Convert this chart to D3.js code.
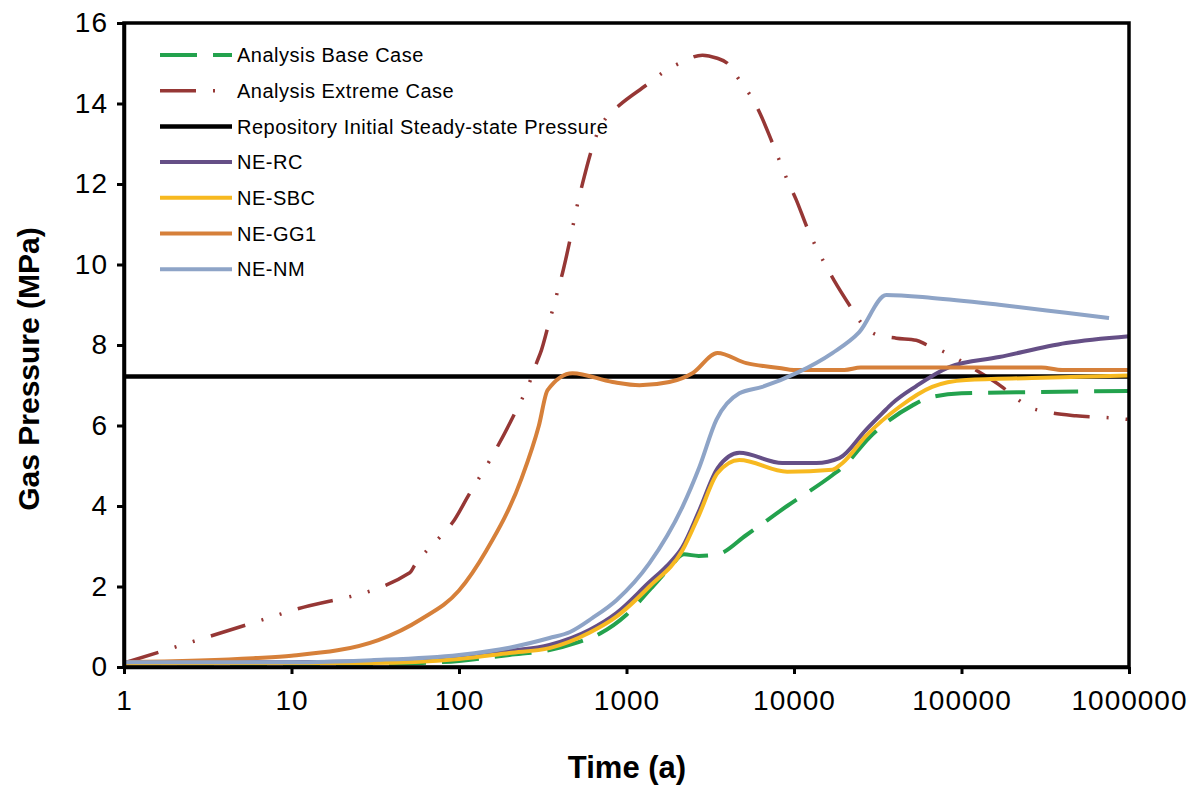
<!DOCTYPE html>
<html>
<head>
<meta charset="utf-8">
<script src="https://cdn.jsdelivr.net/npm/d3@7"></script>
<style>
  html, body { margin: 0; padding: 0; background: #fff; }
  svg { display: block; }
</style>
</head>
<body>
<svg id="chart" width="1193" height="787"></svg>
<script>
// Gas pressure histories, [time (a), pressure (MPa)]
const baseCase = [[1,0.1],[10,0.08],[30,0.08],[60,0.1],[100,0.15],[200,0.3],[347,0.42],[500,0.6],[700,0.84],[1000,1.3],[1400,1.95],[1800,2.45],[2200,2.8],[2700,2.76],[3500,2.8],[5200,3.28],[9100,4.0],[17000,4.77],[20000,5.0],[28000,5.69],[51000,6.5],[63000,6.68],[100000,6.8],[300000,6.83],[1000000,6.86]];
const extremeCase = [[1,0.1],[10,1.4],[50.8,2.34],[54.4,2.53],[77,3.23],[92,3.6],[116,4.32],[152,5.12],[215,6.3],[267,7.13],[292,7.58],[311,7.88],[338,8.42],[362,8.87],[387,9.32],[415,9.79],[465,10.7],[510,11.5],[547,12.02],[618,12.84],[671,13.27],[760,13.66],[908,13.96],[1316,14.46],[1640,14.76],[2070,15.0],[2840,15.2],[3440,15.13],[4000,15.0],[4720,14.58],[5560,14.16],[6210,13.79],[7430,13.02],[9120,12.1],[10330,11.6],[12020,10.9],[15170,10.04],[17380,9.6],[21980,8.92],[25180,8.55],[31400,8.25],[40800,8.17],[53700,8.12],[62400,8.0],[78800,7.83],[96800,7.63],[127400,7.33],[172000,6.98],[212000,6.68],[253000,6.46],[320000,6.34],[483000,6.24],[781000,6.19],[1000000,6.15]];
const steadyState = [[1,7.22],[1000000,7.22]];
const neRC = [[1,0.1],[10,0.12],[30,0.15],[100,0.25],[200,0.4],[347,0.55],[600,0.92],[871,1.34],[1371,2.11],[1731,2.5],[2158,2.98],[2725,3.9],[3500,4.94],[4720,5.32],[8510,5.07],[13590,5.07],[18630,5.19],[27000,5.9],[33600,6.3],[38600,6.55],[53700,6.98],[84400,7.45],[167800,7.7],[421000,8.05],[1000000,8.22]];
const neSBC = [[1,0.08],[10,0.1],[30,0.1],[100,0.2],[200,0.35],[347,0.47],[600,0.85],[871,1.25],[1371,2.0],[2158,2.9],[2725,3.8],[3500,4.82],[4720,5.14],[9100,4.85],[16940,4.9],[19500,5.07],[27000,5.75],[42500,6.46],[66800,6.96],[106600,7.13],[264000,7.18],[1000000,7.24]];
const neGG1 = [[1,0.12],[5.9,0.22],[10,0.28],[33,0.67],[60,1.2],[100,1.9],[146,2.9],[237,4.7],[300,6.0],[338,6.88],[476,7.3],[826,7.08],[1195,7.0],[1803,7.08],[2475,7.3],[3490,7.8],[5196,7.55],[8170,7.43],[10000,7.38],[20000,7.38],[25000,7.44],[300000,7.44],[400000,7.38],[1000000,7.38]];
const neNM = [[1,0.12],[10,0.12],[30,0.17],[100,0.3],[200,0.48],[347,0.72],[460,0.87],[627,1.22],[871,1.66],[1371,2.58],[2158,3.98],[2725,4.97],[3440,6.14],[4720,6.8],[6470,6.96],[10320,7.3],[16940,7.8],[24530,8.32],[35550,9.24],[66800,9.17],[167800,9.0],[421000,8.8],[760000,8.67]];

const seriesNames = ["Analysis Base Case","Analysis Extreme Case","Repository Initial Steady-state Pressure","NE-RC","NE-SBC","NE-GG1","NE-NM"];
const seriesData = [baseCase, extremeCase, steadyState, neRC, neSBC, neGG1, neNM];
const seriesColors = ["#23a24d","#963735","#000000","#654f86","#f7b920","#d6803a","#8ea4c7"];
const seriesDash = ["37,16","36,17,2,17,2,17",null,null,null,null,null];
const seriesWidth = [4,3.5,4.5,4,4,4,4];

const xTicks = [1,10,100,1000,10000,100000,1000000];
const yTicks = [0,2,4,6,8,10,12,14,16];

const font = "'Liberation Sans', Arial, sans-serif";
const svg = d3.select("#chart");
const plotLeft = 124, plotRight = 1129, plotTop = 23, plotBottom = 667;

const x = d3.scaleLog().domain([1,1000000]).range([plotLeft,plotRight]);
const y = d3.scaleLinear().domain([0,16]).range([plotBottom,plotTop]);

// series lines
const line = d3.line().x(d => x(d[0])).y(d => y(d[1])).curve(d3.curveMonotoneX);
seriesData.forEach((data, i) => {
  svg.append("path")
    .datum(data)
    .attr("d", line)
    .attr("fill","none")
    .attr("stroke", seriesColors[i])
    .attr("stroke-width", seriesWidth[i])
    .attr("stroke-dasharray", seriesDash[i])
    .attr("stroke-linejoin","round");
});

// frame
svg.append("rect")
  .attr("x", plotLeft).attr("y", plotTop)
  .attr("width", plotRight-plotLeft).attr("height", plotBottom-plotTop)
  .attr("fill","none").attr("stroke","#000").attr("stroke-width",3.5);

// axes
const xAxis = d3.axisBottom(x).tickValues(xTicks).tickFormat(d3.format("d")).tickSize(7).tickSizeOuter(0).tickPadding(16);
const gx = svg.append("g").attr("transform",`translate(0,${plotBottom})`).call(xAxis);
const yAxis = d3.axisLeft(y).tickValues(yTicks).tickFormat(d3.format("d")).tickSize(7).tickSizeOuter(0).tickPadding(9);
const gy = svg.append("g").attr("transform",`translate(${plotLeft},0)`).call(yAxis);
[gx, gy].forEach(g => {
  g.select(".domain").attr("stroke","#000").attr("stroke-width",3.5);
  g.selectAll(".tick line").attr("stroke","#000").attr("stroke-width",3);
  g.selectAll(".tick text").attr("fill","#000").style("font-family", font).style("font-size","28px").style("letter-spacing","1px");
});

// axis titles
svg.append("text")
  .attr("x", 627).attr("y", 778)
  .attr("text-anchor","middle")
  .style("font-family", font).style("font-size","31px").style("font-weight","bold")
  .text("Time (a)");
svg.append("text")
  .attr("transform", `translate(39,369) rotate(-90)`)
  .attr("text-anchor","middle")
  .style("font-family", font).style("font-size","30px").style("font-weight","bold")
  .text("Gas Pressure (MPa)");

// legend
const legend = svg.append("g");
seriesNames.forEach((name, i) => {
  const ly = 55 + i*35.7;
  legend.append("line")
    .attr("x1",160).attr("x2",232).attr("y1",ly).attr("y2",ly)
    .attr("stroke",seriesColors[i]).attr("stroke-width",seriesWidth[i])
    .attr("stroke-dasharray",seriesDash[i]);
  legend.append("text")
    .attr("x",237).attr("y",ly).attr("dy","0.36em")
    .style("font-family", font).style("font-size","20px").style("letter-spacing","0.5px")
    .text(name);
});
</script>
</body>
</html>
